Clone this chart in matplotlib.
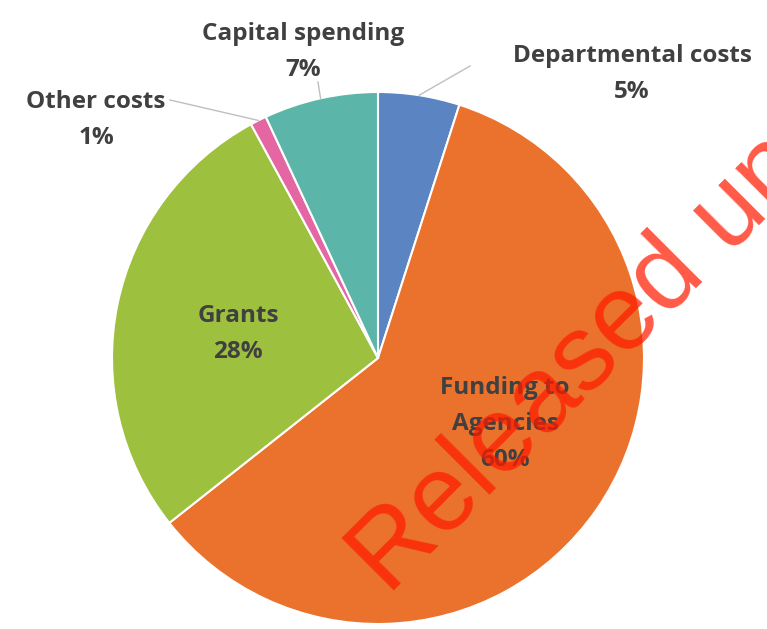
import numpy as np
import matplotlib.pyplot as plt

# datos del grafico (orden horario desde arriba)
categorias = ["Departmental costs", "Funding to\nAgencies", "Grants", "Other costs", "Capital spending"]
valores = [5, 60, 28, 1, 7]
colores = ["#5B84C2", "#EA722D", "#9DC13F", "#E466A3", "#5CB5A9"]

W, H = 767, 629
fig = plt.figure(figsize=(W / 100, H / 100), dpi=100)
ax = fig.add_axes([0, 0, 1, 1])

cx, cy, R = 378, H - 358, 266
wedges, _ = ax.pie(valores, colors=colores, startangle=90, counterclock=False,
                   center=(cx, cy), radius=R, frame=True,
                   wedgeprops=dict(edgecolor="white", linewidth=1.5))
ax.set_xlim(0, W)
ax.set_ylim(0, H)
ax.set_aspect("equal")
ax.axis("off")

txt = dict(fontsize=17.5, fontweight="bold", color="#404040", family="Open Sans",
           ha="center", va="center", linespacing=1.65)

def punto(w, r):
    a = np.deg2rad((w.theta1 + w.theta2) / 2)
    return cx + r * np.cos(a), cy + r * np.sin(a)

# etiquetas exteriores con lineas guia
etiq = [
    (0, (632, H - 74), (470, H - 66)),
    (4, (303, H - 52), (318, H - 82)),
    (3, (96, H - 120), (170, H - 100)),
]
for i, pos, fin in etiq:
    x0, y0 = punto(wedges[i], R)
    ax.plot([x0, fin[0]], [y0, fin[1]], color="#BFBFBF", lw=1)
    ax.text(pos[0], pos[1], f"{categorias[i]}\n{valores[i]}%", **txt)

# etiquetas interiores
ax.text(238, H - 334, f"{categorias[2]}\n{valores[2]}%", **txt)
ax.text(505, H - 424, f"{categorias[1]}\n{valores[1]}%", **txt)

# marca de agua
ax.text(388, H - 596, "Released un", fontsize=77, color="#FF1A00", alpha=0.72,
        family="Liberation Sans", rotation=45, rotation_mode="anchor",
        ha="left", va="baseline")

fig.savefig("out.png", dpi=100)
